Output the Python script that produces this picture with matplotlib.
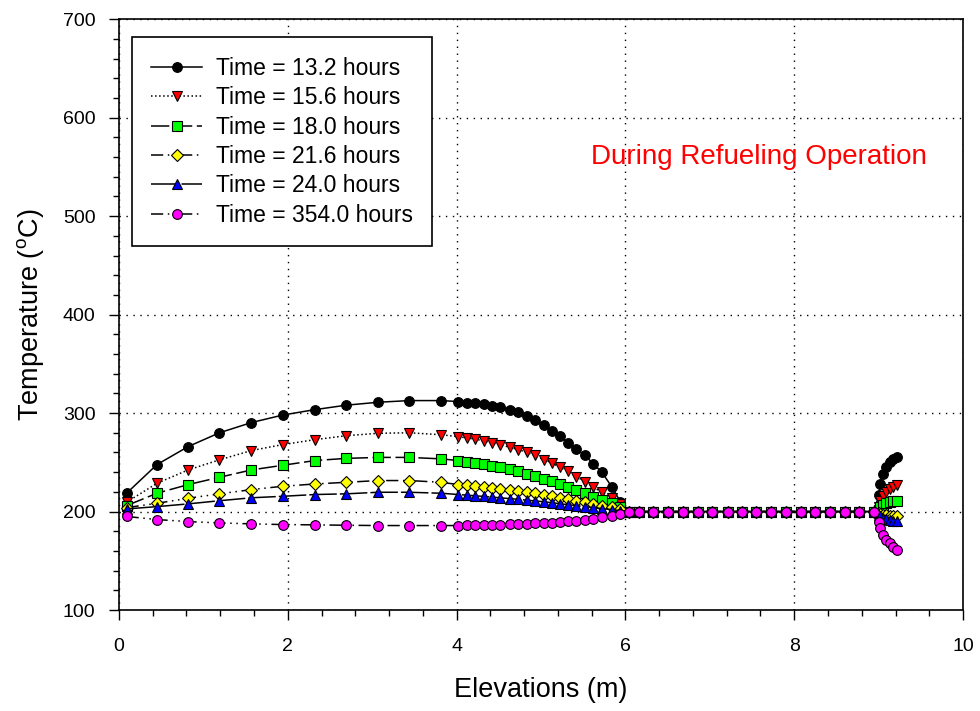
import numpy as np
import matplotlib
matplotlib.use("Agg")
import matplotlib.pyplot as plt
from matplotlib.ticker import MultipleLocator

plt.rcParams['font.family'] = ['Liberation Sans', 'DejaVu Sans']
plt.rcParams['mathtext.fontset'] = 'custom'
plt.rcParams['mathtext.rm'] = 'Liberation Sans'

# elevations (m) shared by all the curves
elev = [0.09, 0.45, 0.82, 1.19, 1.57, 1.94, 2.32, 2.69, 3.07, 3.44, 3.82,
        4.02, 4.12, 4.22, 4.32, 4.42, 4.51, 4.63, 4.73, 4.83, 4.93,
        5.03, 5.13, 5.22, 5.32, 5.42, 5.52, 5.62, 5.72, 5.84, 5.94,
        6.04, 6.16, 6.33, 6.51, 6.68, 6.86, 7.03, 7.21, 7.38, 7.55,
        7.73, 7.90, 8.08, 8.25, 8.42, 8.60, 8.77, 8.95,
        9.00, 9.02, 9.05, 9.09, 9.13, 9.17, 9.22]

flat = [200] * 18  # 6.04 .. 8.95 m, all curves sit at 200 C

t13_2 = [218.6, 247.7, 266, 280, 290.4, 298, 303.5, 308, 311, 312.7, 312.7,
         311.7, 310.7, 310, 309, 307.3, 306, 303.6, 301, 297.5, 292.5,
         287.5, 282, 277, 270, 263.5, 257, 248.5, 240, 225, 210] + flat + \
        [217, 228, 238, 245, 250, 253, 255]
t15_6 = [209.5, 228.7, 242.3, 252.5, 262, 268, 273, 277, 279.5, 280, 278,
         276, 274.8, 273.4, 272, 269.7, 268, 265.3, 263, 260.2, 257,
         252.8, 249.4, 245, 241, 235.5, 230.5, 224.7, 219.6, 214, 207.8] + flat + \
        [205, 211, 216, 220, 223, 225, 227]
t18_0 = [206, 218.6, 227.4, 234.8, 242.3, 247, 251.8, 254, 255, 255, 253.5,
         251.8, 250.8, 249.4, 248.4, 246.7, 245, 243.3, 241, 238.3, 235.8,
         233.2, 230.8, 228, 224.7, 222, 219, 215.2, 212.2, 208.4, 205] + flat + \
        [202, 205, 207, 209, 210, 211, 211]
t21_6 = [204, 208.4, 213.5, 218, 222.3, 225.7, 228, 229.7, 231.5, 231.5, 229.7,
         227.4, 226.5, 225.8, 225, 224, 223, 222, 221, 219.8, 218.5,
         217, 215.5, 214, 212.5, 211, 209.5, 208, 206, 204.5, 203] + flat + \
        [199, 198, 197, 196.5, 196, 195.5, 195]
t24_0 = [202.7, 205, 207.8, 211, 214, 215.5, 217.3, 218, 219.6, 219.6, 218.6,
         217.3, 216.7, 216, 215.4, 214.7, 214, 213.2, 212.4, 211.6, 210.8,
         210, 209, 208, 207, 206, 205, 204, 203, 202, 201] + flat + \
        [197, 195, 193.5, 192, 191, 190.5, 190]
t354_0 = [195, 191.9, 189.8, 188.5, 187.5, 186.8, 186.5, 186.1, 185.8, 185.8, 185.8,
          185.8, 186.1, 186.1, 186.5, 186.5, 186.8, 187.1, 187.5, 187.8, 188.2,
          188.5, 188.8, 189.5, 190.2, 190.9, 191.6, 192.6, 194.2, 195.9, 197.9] + flat + \
         [189, 183, 176, 171, 168, 164.5, 161]

labels = ["Time = 13.2 hours", "Time = 15.6 hours", "Time = 18.0 hours",
          "Time = 21.6 hours", "Time = 24.0 hours", "Time = 354.0 hours"]
series = [t13_2, t15_6, t18_0, t21_6, t24_0, t354_0]
colors = ["black", "red", "#00ff00", "yellow", "blue", "magenta"]
markers = ["o", "v", "s", "D", "^", "o"]
msizes = [7, 7.5, 6.5, 6.5, 7.5, 7]
styles = ["-", ":", (0, (12, 3)), (0, (8, 3, 1, 3, 1, 3)), (0, (18, 2)),
          (0, (8, 3, 1, 3, 1, 3))]

fig = plt.figure(figsize=(9.8, 7.11), dpi=100)
ax = fig.add_axes([0.1214, 0.142, 0.8613, 0.831])

for y, lab, c, m, ms, ls in zip(series, labels, colors, markers, msizes, styles):
    ax.plot(elev, y, color="black", linestyle=ls, linewidth=1.1,
            marker=m, markersize=ms, markerfacecolor=c,
            markeredgecolor="black", markeredgewidth=0.8, label=lab)

ax.set_xlim(0, 10)
ax.set_ylim(100, 700)
ax.xaxis.set_major_locator(MultipleLocator(2))
ax.xaxis.set_minor_locator(MultipleLocator(0.4))
ax.yaxis.set_major_locator(MultipleLocator(100))
ax.yaxis.set_minor_locator(MultipleLocator(20))
ax.tick_params(which="both", direction="out", top=False, right=False,
               labelsize=14, width=1)
ax.tick_params(which="major", length=7)
ax.tick_params(axis="x", which="major", pad=13)
ax.tick_params(axis="y", which="major", pad=10)
ax.tick_params(which="minor", length=4)
for s in ax.spines.values():
    s.set_linewidth(1.2)

ax.grid(True, which="major", color="black", linestyle=(0, (1, 4)), linewidth=1)

ax.set_xlabel("Elevations (m)", fontsize=19.5, labelpad=16)
ax.set_ylabel(r"Temperature ($^\mathregular{o}$C)", fontsize=19.5, labelpad=12)

ax.text(5.59, 560, "During Refueling Operation", color="red", fontsize=20,
        va="center", ha="left")

leg = ax.legend(loc="upper left", bbox_to_anchor=(0.0154, 0.9695),
                borderaxespad=0, fontsize=16.5,
                frameon=True, fancybox=False, edgecolor="black", framealpha=1,
                handlelength=2.2, labelspacing=0.28, borderpad=0.85,
                handletextpad=0.6)
leg.get_frame().set_linewidth(1.2)

fig.savefig("out.png", dpi=100)
